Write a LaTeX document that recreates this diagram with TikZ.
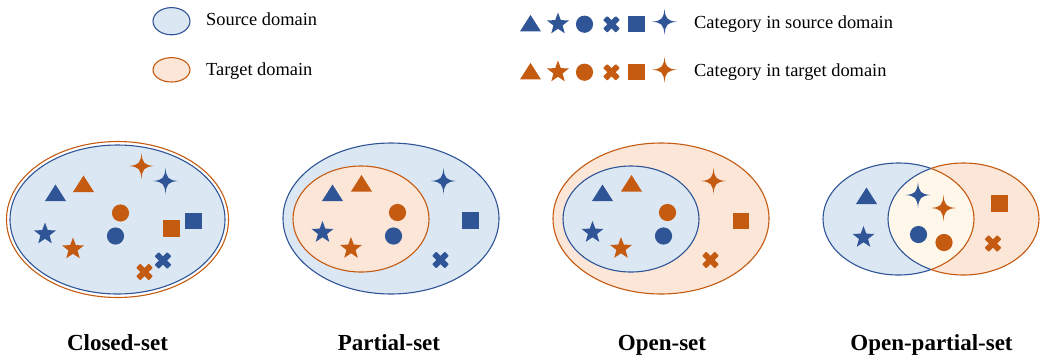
\documentclass[tikz,border=0pt]{standalone}
\usepackage{fontspec}
\setmainfont{Liberation Serif}
\definecolor{sblue}{HTML}{2F5597}
\definecolor{torange}{HTML}{C55A11}
\definecolor{sfill}{HTML}{DCE7F4}
\definecolor{tfill}{HTML}{FBE6D8}
\definecolor{bothfill}{HTML}{FFF7EA}
\tikzset{
  domline/.style={line width=1.1pt},
  legendtext/.style={anchor=base west, inner sep=0pt, font=\fontsize{18.4}{20}\selectfont},
  titletext/.style={anchor=base, inner sep=0pt, font=\fontsize{23}{25}\selectfont\bfseries},
  pics/tri/.style={code={\fill[#1] (0,-8.5) -- (10.5,8) -- (-10.5,8) -- cycle;}},
  pics/starfive/.style={code={\fill[#1] (270:11.5) -- (306:4.8) -- (342:11.5) -- (18:4.8) -- (54:11.5)
      -- (90:4.8) -- (126:11.5) -- (162:4.8) -- (198:11.5) -- (234:4.8) -- cycle;}},
  pics/dot/.style={code={\fill[#1] (0,0) circle[radius=8.6];}},
  pics/xmark/.style={code={
      \fill[#1,rotate=45,rounded corners=0.8pt] (-8.9,-2.9) rectangle (8.9,2.9);
      \fill[#1,rotate=-45,rounded corners=0.8pt] (-8.9,-2.9) rectangle (8.9,2.9);}},
  pics/sq/.style={code={\fill[#1] (-8.4,-8.4) rectangle (8.4,8.4);}},
  pics/sparkle/.style={code={\fill[#1] (0,-13) .. controls (0.8,-3) and (3,-0.8) .. (12.5,0)
      .. controls (3,0.8) and (0.8,3) .. (0,13) .. controls (-0.8,3) and (-3,0.8) .. (-12.5,0)
      .. controls (-3,-0.8) and (-0.8,-3) .. cycle;}},
}
\begin{document}
\begin{tikzpicture}[x=1pt,y=-1pt]
\useasboundingbox (0,0) rectangle (1047,360);

% ---------- legend ----------
\filldraw[domline, draw=sblue, fill=sfill] (171.5,21.2) ellipse[x radius=18.5, y radius=13.6];
\filldraw[domline, draw=torange, fill=tfill] (171.5,69.8) ellipse[x radius=18.5, y radius=12.2];
\node[legendtext] (lsrc) at (206,25.8) {Source domain};
\node[legendtext] (ltgt) at (206,75) {Target domain};

\pic at (530.5,23.4) {tri=sblue};
\pic at (558,24) {starfive=sblue};
\pic at (584.5,24.2) {dot=sblue};
\pic at (611.5,24.3) {xmark=sblue};
\pic at (636.7,24) {sq=sblue};
\pic at (664.5,21.7) {sparkle=sblue};
\node[legendtext] (lcs) at (694,28.3) {Category in source domain};

\pic at (530.5,71.4) {tri=torange};
\pic at (558,72) {starfive=torange};
\pic at (584.5,72.2) {dot=torange};
\pic at (611.5,72.3) {xmark=torange};
\pic at (636.7,72) {sq=torange};
\pic at (664.5,69.7) {sparkle=torange};
\node[legendtext] (lct) at (694,76) {Category in target domain};

% ---------- closed-set ----------
\draw[domline, draw=torange] (117.5,219.5) ellipse[x radius=111, y radius=78];
\filldraw[domline, draw=sblue, fill=sfill] (117.5,219.5) ellipse[x radius=107.5, y radius=74.5];
\pic at (55.5,193) {tri=sblue};
\pic at (83.5,184) {tri=torange};
\pic at (141.5,166) {sparkle=torange};
\pic at (165.5,181) {sparkle=sblue};
\pic at (120.5,213) {dot=torange};
\pic at (115.5,236) {dot=sblue};
\pic at (45,234) {starfive=sblue};
\pic at (73,249) {starfive=torange};
\pic at (171.5,228.5) {sq=torange};
\pic at (193.5,221) {sq=sblue};
\pic at (163,260.5) {xmark=sblue};
\pic at (144.5,272) {xmark=torange};
\node[titletext] (tclosed) at (117.5,350) {Closed-set};

% ---------- partial-set ----------
\filldraw[domline, draw=sblue, fill=sfill] (391,218.5) ellipse[x radius=108, y radius=75.5];
\filldraw[domline, draw=torange, fill=tfill] (361,219) ellipse[x radius=68, y radius=53];
\pic at (332.5,193) {tri=sblue};
\pic at (361.5,183.5) {tri=torange};
\pic at (443.5,181) {sparkle=sblue};
\pic at (397.5,212.5) {dot=torange};
\pic at (393.5,236) {dot=sblue};
\pic at (470.5,220.5) {sq=sblue};
\pic at (322.5,232.5) {starfive=sblue};
\pic at (351,248.5) {starfive=torange};
\pic at (440.5,260) {xmark=sblue};
\node[titletext] (tpartial) at (389,350) {Partial-set};

% ---------- open-set ----------
\filldraw[domline, draw=torange, fill=tfill] (661,218.5) ellipse[x radius=108, y radius=75.5];
\filldraw[domline, draw=sblue, fill=sfill] (631,219) ellipse[x radius=68, y radius=53];
\pic at (602.5,193) {tri=sblue};
\pic at (631.5,183.5) {tri=torange};
\pic at (713.5,181) {sparkle=torange};
\pic at (667.5,212.5) {dot=torange};
\pic at (663.5,236) {dot=sblue};
\pic at (741,221) {sq=torange};
\pic at (592.5,232.5) {starfive=sblue};
\pic at (621,248.5) {starfive=torange};
\pic at (710.5,260) {xmark=torange};
\node[titletext] (topen) at (662,350) {Open-set};

% ---------- open-partial-set ----------
\fill[sfill] (898.5,219) ellipse[x radius=75.5, y radius=56];
\fill[tfill] (963.5,219) ellipse[x radius=75.5, y radius=56];
\begin{scope}
  \clip (898.5,219) ellipse[x radius=75.5, y radius=56];
  \fill[bothfill] (963.5,219) ellipse[x radius=75.5, y radius=56];
\end{scope}
\begin{scope}
  \clip (800,150) rectangle (931,290);
  \draw[domline, sblue] (898.5,219) ellipse[x radius=75.5, y radius=56];
  \draw[domline, sblue] (963.5,219) ellipse[x radius=75.5, y radius=56];
\end{scope}
\begin{scope}
  \clip (931,150) rectangle (1047,290);
  \draw[domline, torange] (898.5,219) ellipse[x radius=75.5, y radius=56];
  \draw[domline, torange] (963.5,219) ellipse[x radius=75.5, y radius=56];
\end{scope}
\pic at (866.5,196) {tri=sblue};
\pic at (863.5,237.5) {starfive=sblue};
\pic at (918,195) {sparkle=sblue};
\pic at (943.5,208) {sparkle=torange};
\pic at (918.5,234.5) {dot=sblue};
\pic at (944,242.5) {dot=torange};
\pic at (999.5,203.5) {sq=torange};
\pic at (993,243.5) {xmark=torange};
\node[titletext] (topenpartial) at (931.5,350) {Open-partial-set};
\end{tikzpicture}
\end{document}
